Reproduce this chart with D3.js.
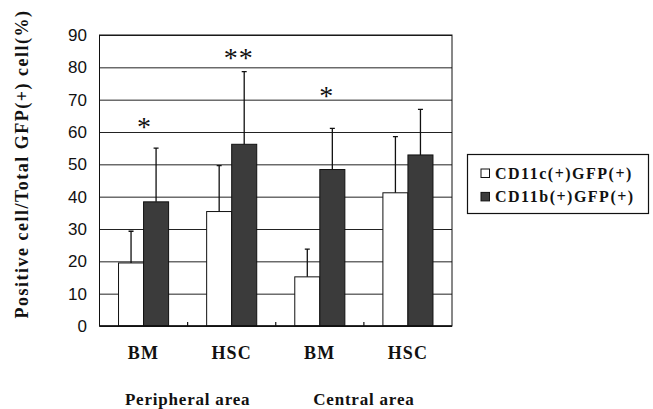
<!DOCTYPE html>
<html>
<head>
<meta charset="utf-8">
<script src="https://cdn.jsdelivr.net/npm/d3@7"></script>
<style>
  html, body { margin: 0; padding: 0; background: #fff; }
  svg { display: block; }
</style>
</head>
<body>
<div id="chart"></div>
<script>
// ---- Data
const groups = ['Peripheral BM', 'Peripheral HSC', 'Central BM', 'Central HSC'];
const groupLabels = ['BM', 'HSC', 'BM', 'HSC'];
const areaLabels = ['Peripheral area', 'Central area'];
const seriesNames = ['CD11c(+)GFP(+)', 'CD11b(+)GFP(+)'];
const cd11cMean = [19.5, 35.4, 15.2, 41.2];
const cd11cSd = [9.8, 14.2, 8.6, 17.4];
const cd11bMean = [38.4, 56.2, 48.4, 52.9];
const cd11bSd = [16.6, 22.5, 12.7, 14.1];
const yTicks = [0, 10, 20, 30, 40, 50, 60, 70, 80, 90];
// significance marks: group index, text, height in % units
const sigGroups = [0, 1, 2];
const sigText = ['*', '**', '*'];
const sigLevel = [63.2, 84.5, 72.7];

const yTitle = 'Positive cell/Total GFP(+) cell(%)';

// ---- Layout
const W = 653, H = 409;
const margin = { top: 35, right: 201, bottom: 83, left: 99.5 };
const width = W - margin.left - margin.right;
const height = H - margin.top - margin.bottom;

const serif = '"Liberation Serif", "Times New Roman", serif';
const sans = '"Liberation Sans", Arial, sans-serif';
const darkFill = '#3b3b3b';

const rows = groups.map((g, i) => ({
    group: g,
    values: [
        { series: seriesNames[0], mean: cd11cMean[i], sd: cd11cSd[i] },
        { series: seriesNames[1], mean: cd11bMean[i], sd: cd11bSd[i] }
    ]
}));

const svg = d3.select('#chart')
    .append('svg')
    .attr('width', W)
    .attr('height', H);

const g = svg.append('g')
    .attr('transform', `translate(${margin.left},${margin.top})`);

// ---- Scales
const x0 = d3.scaleBand().domain(groups).range([0, width]).padding(0);
const x1 = d3.scaleBand().domain(seriesNames).range([0, x0.bandwidth()])
    .paddingInner(0).paddingOuter(0.76);
const y = d3.scaleLinear().domain([0, 90]).range([height, 0]);
const color = d3.scaleOrdinal().domain(seriesNames).range(['#ffffff', darkFill]);

// ---- Gridlines
g.append('g')
    .attr('class', 'grid')
    .call(d3.axisLeft(y).tickValues(yTicks).tickSize(-width).tickFormat(''))
    .call(s => s.select('.domain').remove())
    .call(s => s.selectAll('line').attr('stroke', '#222').attr('stroke-width', 1));

// ---- Y axis labels
g.append('g')
    .attr('class', 'y-axis')
    .call(d3.axisLeft(y).tickValues(yTicks).tickSize(0).tickPadding(12.5))
    .call(s => s.select('.domain').remove())
    .call(s => s.selectAll('text')
        .style('font-family', sans)
        .style('font-size', '17px')
        .attr('fill', '#111'));

// ---- Bars
const groupSel = g.selectAll('.group')
    .data(rows)
    .join('g')
    .attr('class', 'group')
    .attr('transform', d => `translate(${x0(d.group)},0)`);

groupSel.selectAll('rect')
    .data(d => d.values)
    .join('rect')
    .attr('x', d => x1(d.series))
    .attr('y', d => y(d.mean))
    .attr('width', x1.bandwidth())
    .attr('height', d => height - y(d.mean))
    .attr('fill', d => color(d.series))
    .attr('stroke', '#111')
    .attr('stroke-width', 1);

// ---- Error bars (upper only)
const capHalf = 2.5;
groupSel.selectAll('.err')
    .data(d => d.values)
    .join('path')
    .attr('class', 'err')
    .attr('fill', 'none')
    .attr('stroke', '#111')
    .attr('stroke-width', 1.3)
    .attr('d', d => {
        const cx = x1(d.series) + x1.bandwidth() / 2;
        const top = y(d.mean + d.sd);
        return `M${cx},${y(d.mean)}V${top}M${cx - capHalf},${top}H${cx + capHalf}`;
    });

// ---- Frame
g.append('rect')
    .attr('x', 0).attr('y', 0)
    .attr('width', width).attr('height', height)
    .attr('fill', 'none')
    .attr('stroke', '#111')
    .attr('stroke-width', 1);
g.append('line')
    .attr('x1', 0).attr('x2', width)
    .attr('y1', height).attr('y2', height)
    .attr('stroke', '#111').attr('stroke-width', 1.5);

// ---- Inner ticks between groups
g.selectAll('.sep')
    .data(groups.slice(1))
    .join('line')
    .attr('class', 'sep')
    .attr('x1', d => x0(d)).attr('x2', d => x0(d))
    .attr('y1', height).attr('y2', height - 4)
    .attr('stroke', '#111').attr('stroke-width', 1.2);

// ---- X category labels
g.append('g')
    .attr('class', 'x-axis')
    .attr('transform', `translate(0,${height})`)
    .call(d3.axisBottom(x0).tickSize(0).tickFormat((d, i) => groupLabels[i]))
    .call(s => s.select('.domain').remove())
    .call(s => s.selectAll('text')
        .attr('y', 33).attr('dy', 0)
        .style('font-family', serif)
        .style('font-weight', 'bold')
        .style('font-size', '18px')
        .style('letter-spacing', '1.2px')
        .attr('fill', '#111'));

// ---- Area labels (centred under each pair of groups)
g.selectAll('.area')
    .data(areaLabels)
    .join('text')
    .attr('class', 'area')
    .attr('x', (d, i) => x0(groups[i * 2 + 1]))
    .attr('y', height + 79)
    .attr('text-anchor', 'middle')
    .style('font-family', serif)
    .style('font-weight', 'bold')
    .style('font-size', '17px')
    .style('letter-spacing', '0.8px')
    .attr('fill', '#111')
    .text(d => d);

// ---- Significance marks
g.selectAll('.sig')
    .data(sigGroups)
    .join('text')
    .attr('class', 'sig')
    .attr('x', (d, i) => x0(groups[d]) + x0.bandwidth() / 2 + (i === 0 ? 1 : 7))
    .attr('y', (d, i) => y(sigLevel[i]) + 14)
    .attr('text-anchor', 'middle')
    .style('font-family', serif)
    .style('font-size', '28px')
    .style('letter-spacing', '1px')
    .attr('fill', '#111')
    .text((d, i) => sigText[i]);

// ---- Y title
svg.append('text')
    .attr('transform', `translate(28,${margin.top + 129}) rotate(-90)`)
    .attr('text-anchor', 'middle')
    .style('font-family', serif)
    .style('font-weight', 'bold')
    .style('font-size', '18px')
    .style('letter-spacing', '1.5px')
    .attr('fill', '#111')
    .text(yTitle);

// ---- Legend
const legend = svg.append('g')
    .attr('transform', 'translate(467.5,154.5)');
legend.append('rect')
    .attr('width', 181).attr('height', 59)
    .attr('fill', '#fff')
    .attr('stroke', '#111')
    .attr('stroke-width', 1.2);
const items = legend.selectAll('.item')
    .data(seriesNames)
    .join('g')
    .attr('class', 'item')
    .attr('transform', (d, i) => `translate(0,${19 + i * 23.4})`);
items.append('rect')
    .attr('x', 13.5).attr('y', -4.5)
    .attr('width', 8.5).attr('height', 8.5)
    .attr('fill', d => color(d))
    .attr('stroke', '#111')
    .attr('stroke-width', 1);
items.append('text')
    .attr('x', 27.5)
    .attr('y', 5)
    .style('font-family', serif)
    .style('font-weight', 'bold')
    .style('font-size', '16px')
    .style('letter-spacing', '1.5px')
    .attr('fill', '#111')
    .text(d => d);
</script>
</body>
</html>
